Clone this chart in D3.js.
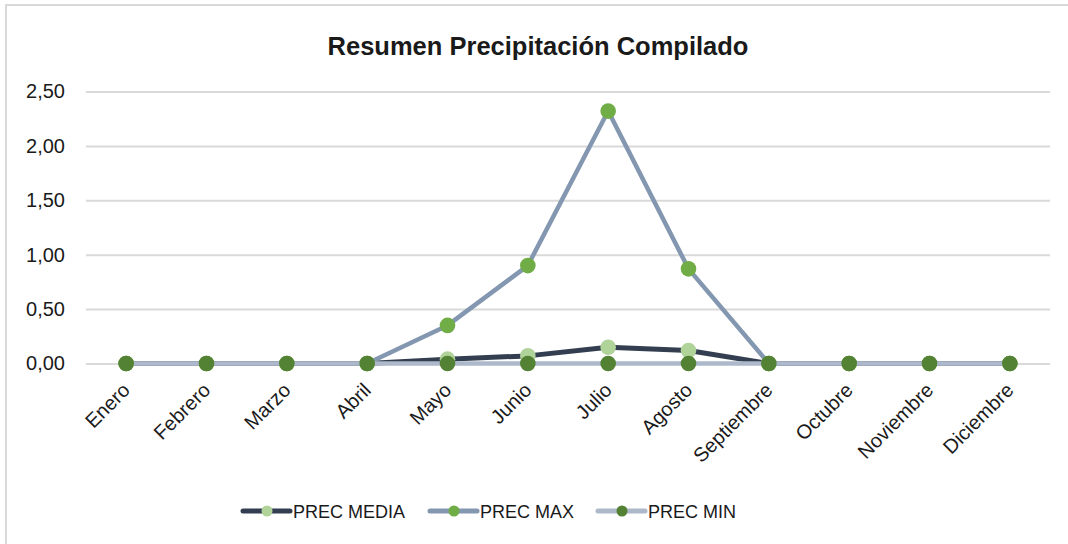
<!DOCTYPE html>
<html>
<head>
<meta charset="utf-8">
<script src="https://cdn.jsdelivr.net/npm/d3@7"></script>
<style>
  html, body { margin: 0; padding: 0; background: #fff; }
  svg { display: block; }
  text { font-family: "Liberation Sans", Arial, sans-serif; fill: #1a1a1a; }
</style>
</head>
<body>
<svg id="chart" width="1068" height="544"></svg>
<script>
// Monthly precipitation summary
const months = ["Enero", "Febrero", "Marzo", "Abril", "Mayo", "Junio",
                "Julio", "Agosto", "Septiembre", "Octubre", "Noviembre", "Diciembre"];
const precMedia = [0, 0, 0, 0, 0.04, 0.07, 0.15, 0.12, 0, 0, 0, 0];
const precMax   = [0, 0, 0, 0, 0.35, 0.90, 2.32, 0.87, 0, 0, 0, 0];
const precMin   = [0, 0, 0, 0, 0, 0, 0, 0, 0, 0, 0, 0];
const yTicks = [0, 0.5, 1, 1.5, 2, 2.5];
const seriesNames = ["PREC MEDIA", "PREC MAX", "PREC MIN"];

const series = [
  { name: seriesNames[0], values: precMedia, line: "#333f50", dot: "#b0d39a", width: 5 },
  { name: seriesNames[1], values: precMax,   line: "#8497b0", dot: "#70ad47", width: 4.5 },
  { name: seriesNames[2], values: precMin,   line: "#adb9ca", dot: "#548235", width: 4.5 }
];

const svg = d3.select("#chart");

// chart frame
svg.append("rect")
  .attr("x", 6).attr("y", 5).attr("width", 1100).attr("height", 600)
  .attr("fill", "#fff").attr("stroke", "#d9d9d9").attr("stroke-width", 2);

const plot = { left: 86, right: 1050, top: 91.5, bottom: 363.5 };

const x = d3.scaleBand().domain(months).range([plot.left, plot.right]);
const y = d3.scaleLinear().domain([0, 2.5]).range([plot.bottom, plot.top]);
const cx = m => x(m) + x.bandwidth() / 2;

// title
svg.append("text")
  .attr("x", 538).attr("y", 55)
  .attr("text-anchor", "middle")
  .style("font-size", "25.5px").style("font-weight", "bold")
  .text("Resumen Precipitación Compilado");

// gridlines + y labels
const fmt = v => d3.format(".2f")(v).replace(".", ",");
const yAxis = svg.append("g")
  .attr("transform", `translate(${plot.left},0)`)
  .call(d3.axisLeft(y).tickValues(yTicks).tickFormat(fmt)
        .tickSize(-(plot.right - plot.left)).tickPadding(21));
yAxis.select(".domain").remove();
yAxis.selectAll(".tick line").attr("stroke", "#d9d9d9").attr("stroke-width", 2);
yAxis.selectAll(".tick text")
  .style("font-size", "20px").style("font-family", "Liberation Sans, Arial, sans-serif")
  .attr("fill", "#1a1a1a");

// x labels
const xAxis = svg.append("g")
  .attr("transform", `translate(0,${plot.bottom})`)
  .call(d3.axisBottom(x).tickSize(0).tickPadding(0));
xAxis.select(".domain").remove();
xAxis.selectAll(".tick text")
  .style("font-size", "20px").style("font-family", "Liberation Sans, Arial, sans-serif")
  .attr("fill", "#1a1a1a")
  .attr("text-anchor", "end")
  .attr("dy", 0).attr("y", 0)
  .attr("transform", "translate(5,28) rotate(-45)");

// series lines
const line = d3.line().x((d, i) => cx(months[i])).y(d => y(d));
series.forEach(s => {
  svg.append("path")
    .datum(s.values)
    .attr("d", line)
    .attr("fill", "none")
    .attr("stroke", s.line)
    .attr("stroke-width", s.width)
    .attr("stroke-linejoin", "round");
  svg.append("g").selectAll("circle")
    .data(s.values)
    .join("circle")
    .attr("cx", (d, i) => cx(months[i]))
    .attr("cy", d => y(d))
    .attr("r", 7.8)
    .attr("fill", s.dot);
});

// legend
const legendX = [243, 430, 598];
const legend = svg.append("g");
series.forEach((s, i) => {
  const g = legend.append("g").attr("transform", `translate(${legendX[i]},511)`);
  g.append("line").attr("x1", 0).attr("x2", 47).attr("y1", 0).attr("y2", 0)
    .attr("stroke", s.line).attr("stroke-width", 5).attr("stroke-linecap", "round");
  g.append("circle").attr("cx", 24).attr("cy", 0).attr("r", 5.5).attr("fill", s.dot);
  g.append("text").attr("x", 50).attr("y", 6.5)
    .style("font-size", "18px")
    .text(s.name);
});
</script>
</body>
</html>
